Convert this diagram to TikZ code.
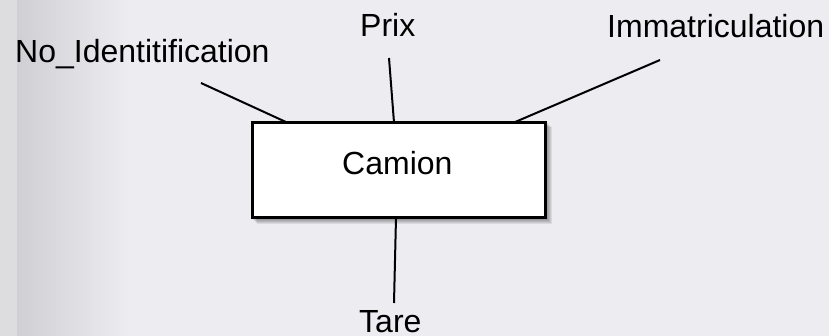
\documentclass[tikz,border=0pt]{standalone}
\usepackage{fontspec}
\setmainfont{Liberation Sans}
\usetikzlibrary{calc}
\definecolor{bgc}{HTML}{EDEDF1}
\definecolor{stripc}{HTML}{DDDDDF}
\definecolor{edgec}{HTML}{D0D0D4}
\tikzset{
  lbl/.style={inner sep=0pt, anchor=base west, font=\fontsize{32}{38}\selectfont},
  entity/.style={draw=black, line width=3pt, fill=white, minimum width=293pt, minimum height=95pt, inner sep=0pt},
  link/.style={line width=2pt, draw=black}
}
\begin{document}
\begin{tikzpicture}[x=1pt,y=-1pt]
\useasboundingbox (0,0) rectangle (829,336);
% background
\fill[bgc] (0,0) rectangle (829,336);
\fill[stripc] (0,0) rectangle (17,336);
\shade[left color=edgec, right color=bgc] (17,0) rectangle (130,336);
% shadow
\foreach \i in {1,...,5} {
  \fill[black, opacity=0.08] (251+\i+1,121+\i+1) rectangle (547+\i,219+\i);
}
% entity
\node[entity] (camion) at (399,170) {};
\node[lbl] (camiontxt) at (342,175) {Camion};
% attributes
\node[lbl] (noid) at (15,63) {No\_Identitification};
\node[lbl] (prix) at (360,37) {Prix};
\node[lbl] (immat) at (607,38) {Immatriculation};
\node[lbl] (tare) at (359,332) {Tare};
% free ends of connectors
\coordinate (noidend) at (201,83);
\coordinate (prixend) at (389,58);
\coordinate (immatend) at (660,60);
\coordinate (tareend) at (394,303);
\draw[link] (noidend) -- ($(camion.north west)+(36,1.5)$);
\draw[link] (prixend) -- ($(camion.north west)+(143,1.5)$);
\draw[link] (immatend) -- ($(camion.north west)+(263,1.5)$);
\draw[link] (tareend) -- ($(camion.south west)+(145,-1.5)$);
\end{tikzpicture}
\end{document}
